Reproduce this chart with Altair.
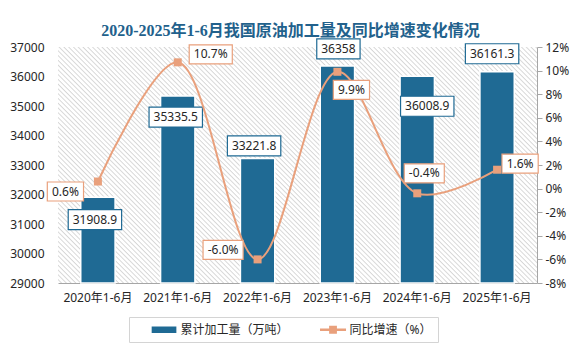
import altair as alt
import pandas as pd

categories = ["2020年1-6月", "2021年1-6月", "2022年1-6月", "2023年1-6月", "2024年1-6月", "2025年1-6月"]
output = [31908.9, 35335.5, 33221.8, 36358, 36008.9, 36161.3]
output_labels = ["31908.9", "35335.5", "33221.8", "36358", "36008.9", "36161.3"]
growth = [0.6, 10.7, -6.0, 9.9, -0.4, 1.6]
growth_labels = ["0.6%", "10.7%", "-6.0%", "9.9%", "-0.4%", "1.6%"]
series = ["累计加工量（万吨）", "同比增速（%）"]

# label placement (pixel offsets from the data point) - style only
bar_dx = [-3, -2, -3.5, 1, 10, -5]
bar_dy = [22.5, 21, -12.5, -17, 30, -18]
line_dx = [-32.5, 33, -34.5, 14, 7, 23]
line_dy = [10, -8, -9.5, 18, -20, -6]

BLUE = "#1f6a94"
ORANGE = "#e9a07c"
TXT = "#262626"
FONT = "Noto Sans, Noto Sans CJK SC"

W, H = 479, 236
LEFT_DOM = [29000, 37000]
RIGHT_DOM = [-8, 12]
HALF_BAND = W / 6 * 0.43 / 2

cw = {".": 0.268, "%": 0.856, "-": 0.322}


def box_path(label, h=20):
    w = sum(cw.get(c, 0.572) for c in label) * 12 + 9
    hw, hh = w / 100, h / 100
    return f"M{-hw},{-hh}H{hw}V{hh}H{-hw}Z"


df = pd.DataFrame({
    "cat": categories,
    "value": output,
    "vlabel": output_labels,
    "rate": growth,
    "rlabel": growth_labels,
    "series": series[0],
    "bdx": [d + HALF_BAND for d in bar_dx],
    "ldx": [d + HALF_BAND for d in line_dx],
    "bdy": bar_dy, "ldy": line_dy,
    "bshape": [box_path(s) for s in output_labels],
    "lshape": [box_path(s, 19) for s in growth_labels],
})

# hatch background (fine diagonal stripes via gradient)
r = H / W
k = (1 + r) / (1 + r * r)
N = 150
stops = []
for i in range(N):
    stops += [
        {"offset": i / N, "color": "#ffffff"},
        {"offset": (i + 0.45) / N, "color": "#ffffff"},
        {"offset": (i + 0.75) / N, "color": "#d6d6d6"},
    ]
stops.append({"offset": 1, "color": "#ffffff"})
grad = {"gradient": "linear", "x1": 0, "y1": 1, "x2": k, "y2": 1 - k * r, "stops": stops}

hatch = alt.Chart(pd.DataFrame({"a": [0]})).mark_rect(fill=grad).encode(
    x=alt.value(0), x2=alt.value("width"), y=alt.value(0), y2=alt.value("height")
)

xenc = alt.X("cat:N", sort=categories, title=None,
             scale=alt.Scale(paddingInner=0.57, paddingOuter=0.285),
             axis=alt.Axis(labelAngle=0, ticks=False, domainColor="#a6a6a6", labelFontSize=12,
                           labelFont=FONT, labelColor=TXT, labelPadding=9))

left_axis = alt.Axis(values=list(range(29000, 37001, 1000)), format="d", ticks=False,
                     domain=False, grid=False, labelPadding=14, labelFontSize=12,
                     labelFont=FONT, labelColor=TXT)
left_scale = alt.Scale(domain=LEFT_DOM, nice=False, zero=False)

right_axis = alt.Axis(orient="right", values=list(range(-8, 13, 2)),
                      labelExpr="datum.value + '%'", tickSize=5, domainColor="#a6a6a6",
                      tickColor="#a6a6a6", grid=False, labelPadding=3, labelFontSize=12,
                      labelFont=FONT, labelColor=TXT)
right_scale = alt.Scale(domain=RIGHT_DOM, nice=False)

base = alt.Chart(df).transform_calculate(
    vpos=f"datum.value - datum.bdy * {(LEFT_DOM[1] - LEFT_DOM[0]) / H}",
    rpos=f"datum.rate - datum.ldy * {(RIGHT_DOM[1] - RIGHT_DOM[0]) / H}",
)

legend = alt.Legend(
    orient="none", legendX=71, legendY=270, direction="horizontal",
    title="\u3000", titleOrient="left", titleFontSize=12, titlePadding=9,
    labelFont=FONT, labelFontSize=12, labelColor=TXT,
    labelExpr="datum.index === 1 ? datum.label + '\u3000\u2002' : datum.label",
    symbolSize=169, symbolOffset=6.5, labelOffset=17,
    columnPadding=24, strokeColor="#d4d4d4", padding=6, fillColor="white",
    symbolType={"expr": "datum.index === 0 ? 'M-0.82,-0.5H2.98V0.5H-0.82Z' : 'M-0.92,-0.18H3.08V0.18H-0.92Z M0.48,-0.6H1.68V0.6H0.48Z'"},
    symbolStrokeWidth=0, symbolOpacity=1,
)

bars = base.mark_bar(stroke="white", strokeWidth=1.5).encode(
    x=xenc, y=alt.Y("value:Q", title=None, scale=left_scale, axis=left_axis), y2=alt.datum(29000),
    color=alt.Color("series:N", scale=alt.Scale(domain=series, range=[BLUE, ORANGE]), legend=legend),
)
bar_boxes = base.mark_point(filled=True, fill="white", stroke=BLUE, strokeWidth=1.2, opacity=1, size=10000).encode(
    x=xenc, y=alt.Y("vpos:Q", title=None, scale=left_scale, axis=left_axis),
    xOffset=alt.XOffset("bdx:Q", scale=None),
    shape=alt.Shape("bshape:N", scale=None),
)
bar_text = base.mark_text(fontSize=12, font=FONT, color=TXT, baseline="middle", align="center").encode(
    x=xenc, y=alt.Y("vpos:Q", title=None, scale=left_scale, axis=left_axis),
    xOffset=alt.XOffset("bdx:Q", scale=None),
    text="vlabel:N",
)
left = alt.layer(bars, bar_boxes, bar_text)

line = base.mark_line(interpolate="catmull-rom", color=ORANGE, strokeWidth=2).encode(
    x=xenc, y=alt.Y("rate:Q", title=None, scale=right_scale, axis=right_axis))
pts = base.mark_point(shape="square", filled=True, size=64, color=ORANGE, opacity=1).encode(
    x=xenc, y=alt.Y("rate:Q", title=None, scale=right_scale, axis=right_axis))
line_boxes = base.mark_point(filled=True, fill="white", stroke=ORANGE, strokeWidth=1.2, opacity=1, size=10000).encode(
    x=xenc, y=alt.Y("rpos:Q", title=None, scale=right_scale, axis=right_axis),
    xOffset=alt.XOffset("ldx:Q", scale=None),
    shape=alt.Shape("lshape:N", scale=None),
)
line_text = base.mark_text(fontSize=12, font=FONT, color=TXT, baseline="middle", align="center").encode(
    x=xenc, y=alt.Y("rpos:Q", title=None, scale=right_scale, axis=right_axis),
    xOffset=alt.XOffset("ldx:Q", scale=None),
    text="rlabel:N",
)
right = alt.layer(line, pts, line_boxes, line_text)

chart = alt.layer(hatch, left, right).resolve_scale(y="independent").properties(
    width=W, height=H,
    autosize=alt.AutoSizeParams(type="none"),
    padding={"left": 50, "top": 39, "right": 42, "bottom": 67},
    background="white",
    title=alt.TitleParams(
        "2020-2025年1-6月我国原油加工量及同比增速变化情况",
        fontSize=16, font="Liberation Serif, Noto Sans CJK SC", fontWeight="bold",
        color="#22618c", anchor="middle", frame="group", offset=-2, dx=-7,
    ),
).configure_view(stroke=None)

chart.save("out.html", embed_options={"renderer": "svg", "actions": False})
